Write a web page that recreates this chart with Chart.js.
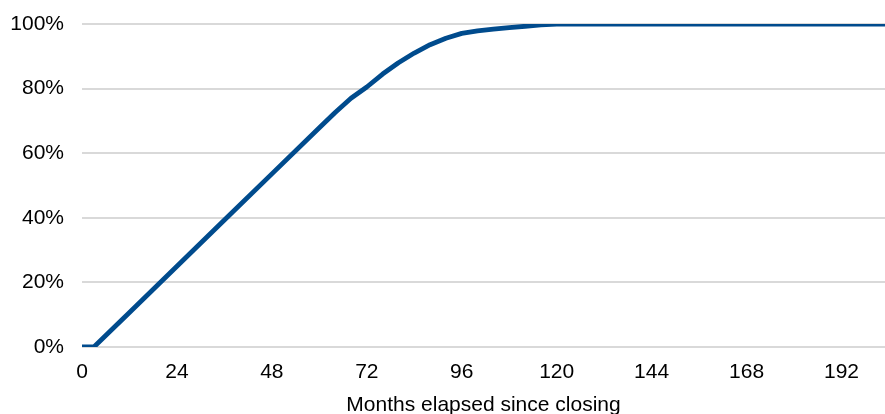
<!DOCTYPE html>
<html>
<head>
<meta charset="utf-8">
<script src="https://cdn.jsdelivr.net/npm/chart.js@4/dist/chart.umd.min.js"></script>
<style>
  html, body { margin: 0; padding: 0; background: #ffffff; overflow: hidden; }
  #wrap { position: relative; width: 885px; height: 414px; }
</style>
</head>
<body>
<div id="wrap"><canvas id="c" width="885" height="414"></canvas></div>
<script>
// Months elapsed since closing (x) and cumulative share (%)
const months = [0, 3, 12, 24, 36, 48, 60, 64, 68, 72, 76, 80, 84, 88, 92, 96, 100, 104, 108, 112, 116, 120, 203];
const shareValues = [0, 0, 10.7, 25.0, 39.3, 53.6, 67.9, 72.6, 77.0, 80.5, 84.5, 88.0, 91.0, 93.6, 95.6, 97.1, 97.9, 98.4, 98.9, 99.3, 99.7, 100, 100];
const xTickValues = [0, 24, 48, 72, 96, 120, 144, 168, 192];
const xMax = 203;
const yTickValues = [0, 20, 40, 60, 80, 100];
const xTitle = "Months elapsed since closing";

const points = months.map((m, i) => ({ x: m, y: shareValues[i] }));
const font = { family: "'Liberation Sans', Arial, sans-serif", size: 21 };

new Chart(document.getElementById('c'), {
  type: 'line',
  data: {
    datasets: [{
      data: points,
      borderColor: '#004b8d',
      borderWidth: 4.8,
      pointRadius: 0,
      fill: false,
      tension: 0,
      borderJoinStyle: 'round'
    }]
  },
  options: {
    responsive: false,
    animation: false,
    devicePixelRatio: 1,
    layout: { padding: { top: 24, left: 0, right: 0, bottom: 0 } },
    plugins: { legend: { display: false }, tooltip: { enabled: false } },
    scales: {
      x: {
        type: 'linear',
        min: 0,
        max: xMax,
        grid: { display: false, drawTicks: false },
        border: { display: false },
        ticks: { autoSkip: false, color: '#000000', font: font, padding: 13, maxRotation: 0 },
        afterBuildTicks: (scale) => {
          scale.ticks = xTickValues.map(v => ({ value: v }));
        },
        afterFit: (scale) => {
          scale.height = 67;
          scale.paddingLeft = 0;
          scale.paddingRight = 0;
        },
        title: {
          display: true,
          text: xTitle,
          color: '#000000',
          font: { family: font.family, size: 21, lineHeight: 1 },
          padding: { top: 8, bottom: -2 }
        }
      },
      y: {
        min: 0,
        max: 100,
        grid: { color: '#d9d9d9', lineWidth: 2, drawTicks: false },
        border: { display: false },
        afterBuildTicks: (scale) => {
          scale.ticks = yTickValues.map(v => ({ value: v }));
        },
        afterFit: (scale) => {
          scale.width = 82;
          scale.paddingTop = 0;
          scale.paddingBottom = 0;
        },
        ticks: {
          color: '#000000',
          font: font,
          padding: 18,
          callback: (v) => v + '%'
        }
      }
    }
  }
});
</script>
</body>
</html>
